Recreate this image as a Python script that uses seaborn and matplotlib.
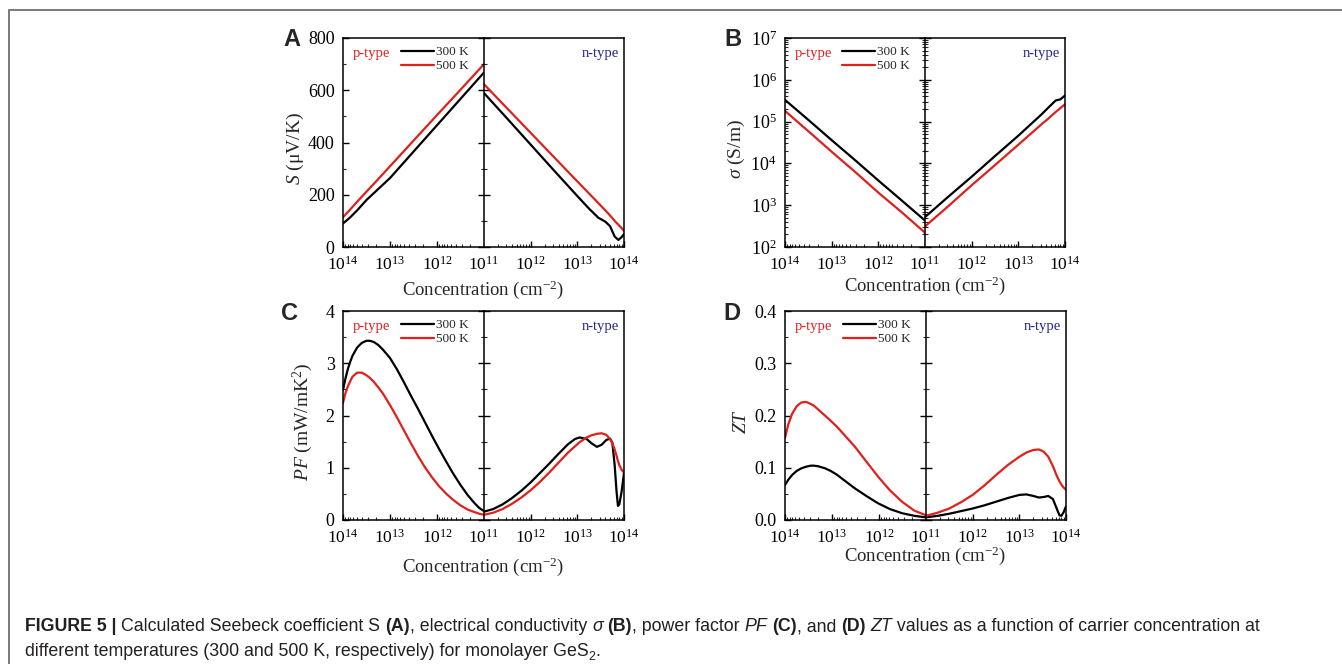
import matplotlib
matplotlib.use("Agg")
import matplotlib.pyplot as plt
import seaborn as sns
import pandas as pd
from matplotlib.ticker import LogLocator, NullFormatter, FixedLocator, MultipleLocator

# ---------------- data (log10 of carrier concentration, cm^-2) ----------------
temps = ["300 K", "500 K"]
colors = {"300 K": "#000000", "500 K": "#e0201b"}

# Panel A : Seebeck coefficient (uV/K)
A_p_exp = [14, 13.85, 13.7, 13.5, 13.25, 13, 12.5, 12, 11.5, 11]
A_p_300 = [90, 113, 140, 180, 222, 264, 365, 466, 567, 668]
A_p_500 = [114, 143, 173, 212, 260, 309, 407, 505, 602, 700]
A_n_exp = [11, 11.5, 12, 12.5, 13, 13.25, 13.45, 13.6, 13.7, 13.8, 13.88, 13.95, 14]
A_n_300 = [589, 491, 392, 293, 195, 147, 112, 97, 80, 40, 27, 38, 50]
A_n_500 = [623, 530, 437, 344, 251, 205, 168, 140, 121, 100, 85, 72, 62]

# Panel B : electrical conductivity (S/m)
B_p_exp = [14, 13.5, 13, 12.5, 12, 11.5, 11]
B_p_300 = [3.3e5, 1.1e5, 3.6e4, 1.2e4, 3.9e3, 1.3e3, 4.3e2]
B_p_500 = [1.8e5, 5.9e4, 1.9e4, 6.3e3, 2.0e3, 6.8e2, 2.2e2]
B_n_exp = [11, 11.5, 12, 12.5, 13, 13.5, 13.65, 13.8, 13.9, 14]
B_n_300 = [5.2e2, 1.6e3, 4.8e3, 1.5e4, 4.6e4, 1.5e5, 2.2e5, 3.2e5, 3.4e5, 4.2e5]
B_n_500 = [3.1e2, 9.5e2, 3.0e3, 9.1e3, 2.8e4, 8.7e4, 1.2e5, 1.7e5, 2.1e5, 2.6e5]

# Panel C : power factor (mW/mK^2)
C_p_exp = [14, 13.95, 13.9, 13.85, 13.8, 13.7, 13.6, 13.5, 13.43, 13.35, 13.25, 13.15, 13.0,
           12.85, 12.7, 12.55, 12.4, 12.25, 12.1, 11.95, 11.8, 11.65, 11.5, 11.35, 11.2, 11.1, 11.0]
C_p_300 = [2.49, 2.70, 2.88, 3.02, 3.14, 3.30, 3.39, 3.43, 3.43, 3.41, 3.35, 3.26, 3.10,
           2.88, 2.63, 2.37, 2.12, 1.86, 1.60, 1.35, 1.11, 0.88, 0.67, 0.48, 0.32, 0.23, 0.17]
C_p_500 = [2.24, 2.42, 2.55, 2.65, 2.74, 2.82, 2.82, 2.77, 2.72, 2.65, 2.54, 2.42, 2.20,
           1.96, 1.71, 1.46, 1.22, 1.00, 0.81, 0.64, 0.50, 0.38, 0.28, 0.20, 0.15, 0.12, 0.10]
C_n_exp = [11, 11.2, 11.4, 11.6, 11.8, 12.0, 12.2, 12.4, 12.6, 12.8, 12.95, 13.05, 13.2, 13.3,
           13.42, 13.52, 13.62, 13.7, 13.75, 13.8, 13.84, 13.87, 13.9, 13.95, 14]
C_n_300 = [0.16, 0.21, 0.30, 0.42, 0.56, 0.72, 0.90, 1.08, 1.27, 1.45, 1.55, 1.58, 1.55, 1.47,
           1.40, 1.44, 1.53, 1.56, 1.48, 1.05, 0.55, 0.27, 0.30, 0.55, 0.90]
C_n_500 = [0.10, 0.14, 0.21, 0.31, 0.43, 0.57, 0.73, 0.91, 1.10, 1.29, 1.41, 1.49, 1.58, 1.62,
           1.65, 1.66, 1.63, 1.55, 1.47, 1.35, 1.23, 1.13, 1.05, 0.96, 0.91]

# Panel D : figure of merit ZT
D_p_exp = [14, 13.93, 13.85, 13.75, 13.65, 13.55, 13.45, 13.39, 13.3, 13.15, 13.03, 12.9,
           12.77, 12.52, 12.27, 12.02, 11.77, 11.51, 11.25, 11]
D_p_300 = [0.067, 0.077, 0.086, 0.094, 0.099, 0.102, 0.104, 0.104, 0.103, 0.099, 0.094, 0.087,
           0.078, 0.061, 0.046, 0.032, 0.021, 0.013, 0.008, 0.005]
D_p_500 = [0.157, 0.183, 0.203, 0.218, 0.225, 0.226, 0.222, 0.219, 0.212, 0.200, 0.190, 0.179,
           0.166, 0.141, 0.112, 0.083, 0.057, 0.035, 0.018, 0.009]
D_n_exp = [11, 11.25, 11.5, 11.75, 12, 12.25, 12.5, 12.75, 13, 13.15, 13.3, 13.42, 13.52,
           13.62, 13.72, 13.8, 13.86, 13.9, 13.95, 14]
D_n_300 = [0.005, 0.008, 0.012, 0.017, 0.022, 0.028, 0.035, 0.042, 0.048, 0.049, 0.046, 0.043,
           0.044, 0.046, 0.040, 0.022, 0.009, 0.008, 0.015, 0.026]
D_n_500 = [0.008, 0.014, 0.022, 0.034, 0.048, 0.066, 0.086, 0.105, 0.121, 0.129, 0.134, 0.135,
           0.131, 0.121, 0.103, 0.085, 0.074, 0.068, 0.062, 0.058]


def frame(exps, v300, v500):
    rows = []
    for T, vals in zip(temps, (v300, v500)):
        for e, v in zip(exps, vals):
            rows.append({"conc": 10.0 ** e, "val": v, "T": T})
    return pd.DataFrame(rows)


# ---------------- style ----------------
sns.set_style("ticks")
plt.rcParams["font.family"] = ["Liberation Serif", "DejaVu Serif"]
plt.rcParams["mathtext.fontset"] = "custom"
plt.rcParams["mathtext.rm"] = "Liberation Serif"
plt.rcParams["mathtext.it"] = "Liberation Serif:italic"
plt.rcParams["mathtext.bf"] = "Liberation Serif:bold"
plt.rcParams["axes.linewidth"] = 1.1

W, H = 1342, 664
fig = plt.figure(figsize=(W / 100, H / 100), dpi=100)


def fx(px):
    return px / W


def fy(py):
    return 1 - py / H


def make_panel(left, mid, right, top, bottom, data_p, data_n, ylog, ylim,
               ymajor, yminor, ylabel, ylab_x, letter, letter_xy, xlab_y):
    axL = fig.add_axes([fx(left), fy(bottom), fx(mid - left), (bottom - top) / H])
    axR = fig.add_axes([fx(mid), fy(bottom), fx(right - mid), (bottom - top) / H])
    for ax, xl in ((axL, (1e14, 1e11)), (axR, (1e11, 1e14))):
        ax.set_xscale("log")
        if ylog:
            ax.set_yscale("log")
        ax.set_xlim(*xl)
        ax.set_ylim(*ylim)
    for ax, df in ((axL, data_p), (axR, data_n)):
        sns.lineplot(data=df, x="conc", y="val", hue="T", hue_order=temps,
                     palette=colors, estimator=None, legend=False, ax=ax,
                     linewidth=1.6)
        ax.set_xlabel("")
        ax.set_ylabel("")
        ax.xaxis.set_minor_locator(LogLocator(base=10, subs=range(2, 10), numticks=20))
        ax.xaxis.set_minor_formatter(NullFormatter())
        if ylog:
            ax.yaxis.set_major_locator(LogLocator(base=10, numticks=10))
            ax.yaxis.set_minor_locator(LogLocator(base=10, subs=range(2, 10), numticks=20))
            ax.yaxis.set_minor_formatter(NullFormatter())
        else:
            ax.yaxis.set_major_locator(MultipleLocator(ymajor))
            ax.yaxis.set_minor_locator(MultipleLocator(yminor))
        for s in ax.spines.values():
            s.set_color("black")
            s.set_linewidth(1.1)
        ax.tick_params(axis="both", which="major", length=4, width=1.0,
                       direction="in", colors="black")
        ax.tick_params(axis="y", which="major", labelsize=13, pad=6)
        ax.tick_params(axis="x", which="major", labelsize=12.5, pad=6)
        ax.tick_params(axis="both", which="minor", length=2.2, width=0.8, direction="in")
        ax.tick_params(top=False, right=False, which="both")
    axL.xaxis.set_major_locator(FixedLocator([1e14, 1e13, 1e12, 1e11]))
    axR.xaxis.set_major_locator(FixedLocator([1e12, 1e13, 1e14]))
    axL.spines["right"].set_visible(False)
    axR.tick_params(axis="y", which="both", labelleft=False, direction="inout")
    axR.tick_params(axis="y", which="major", length=8)
    axR.tick_params(axis="y", which="minor", length=4.5)
    axL.set_ylabel(ylabel, fontsize=14)
    axL.yaxis.set_label_coords(ylab_x, 0.47)
    # legend
    axL.legend(handles=axL.lines[:2], labels=temps, loc="upper left",
               bbox_to_anchor=(0.41, 0.962), frameon=False, fontsize=9.5,
               handlelength=2.5, handletextpad=0.15, labelspacing=0.15,
               borderpad=0, borderaxespad=0)
    axL.text(0.07, 0.925, "p-type", color="#e0201b", fontsize=10.5,
             transform=axL.transAxes, ha="left", va="center")
    axR.text(0.965, 0.925, "n-type", color="#23238e", fontsize=10.5,
             transform=axR.transAxes, ha="right", va="center")
    fig.text(fx((left + right) / 2), fy(xlab_y), "Concentration (cm$^{-2}$)",
             fontsize=13.5, ha="center", va="center")
    fig.text(fx(letter_xy[0]), fy(letter_xy[1]), letter, fontsize=17,
             fontweight="bold", family="Liberation Sans", ha="center", va="center")
    return axL, axR


make_panel(343, 484, 624, 38, 247, frame(A_p_exp, A_p_300, A_p_500),
           frame(A_n_exp, A_n_300, A_n_500), False, (0, 800), 200, 100,
           "$S$ (μV/K)", -0.262, "A", (292, 40), 290)
make_panel(785, 925, 1065, 38, 247, frame(B_p_exp, B_p_300, B_p_500),
           frame(B_n_exp, B_n_300, B_n_500), True, (1e2, 1e7), None, None,
           "$\\sigma$ (S/m)", -0.27, "B", (733, 40), 286)
make_panel(343, 484, 624, 311, 520, frame(C_p_exp, C_p_300, C_p_500),
           frame(C_n_exp, C_n_300, C_n_500), False, (0, 4), 1, 0.5,
           "$PF$ (mW/mK$^2$)", -0.2, "C", (290, 313), 567)
make_panel(785, 926, 1066, 311, 520, frame(D_p_exp, D_p_300, D_p_500),
           frame(D_n_exp, D_n_300, D_n_500), False, (0, 0.4), 0.1, 0.05,
           "$ZT$", -0.25, "D", (732, 313), 556)

# ---------------- outer frame ----------------
fig.add_artist(plt.Line2D([fx(9), 1], [fy(10), fy(10)], color="#7a7a7a", lw=1.4,
                          transform=fig.transFigure))
fig.add_artist(plt.Line2D([fx(9), fx(9)], [fy(10), 0], color="#7a7a7a", lw=1.4,
                          transform=fig.transFigure))

# ---------------- caption ----------------
cap_family = "Liberation Sans"
cap_size = 12.8
cap_color = "#231f20"

renderer = fig.canvas.get_renderer()


def draw_runs(x0, y0, runs):
    x = x0
    for txt, style in runs:
        kw = dict(family=cap_family, fontsize=cap_size, color=cap_color,
                  va="baseline", ha="left")
        yy = y0
        if style == "b":
            kw["fontweight"] = "bold"
        elif style == "i":
            kw["fontstyle"] = "italic"
        elif style == "sub":
            kw["fontsize"] = cap_size * 0.7
            yy = y0 + 4
        t = fig.text(fx(x), fy(yy), txt, **kw)
        bb = t.get_window_extent(renderer=renderer)
        x += bb.width


line1 = [("FIGURE 5 | ", "b"), ("Calculated Seebeck coefficient S ", "r"), ("(A)", "b"),
         (", electrical conductivity ", "r"), ("σ", "i"), (" ", "r"), ("(B)", "b"),
         (", power factor ", "r"), ("PF", "i"), (" ", "r"), ("(C)", "b"), (", and ", "r"),
         ("(D)", "b"), (" ", "r"), ("ZT", "i"),
         (" values as a function of carrier concentration at", "r")]
line2 = [("different temperatures (300 and 500 K, respectively) for monolayer GeS", "r"),
         ("2", "sub"), (".", "r")]
draw_runs(25, 631, line1)
draw_runs(25, 656, line2)

fig.savefig("out.png", dpi=100)
